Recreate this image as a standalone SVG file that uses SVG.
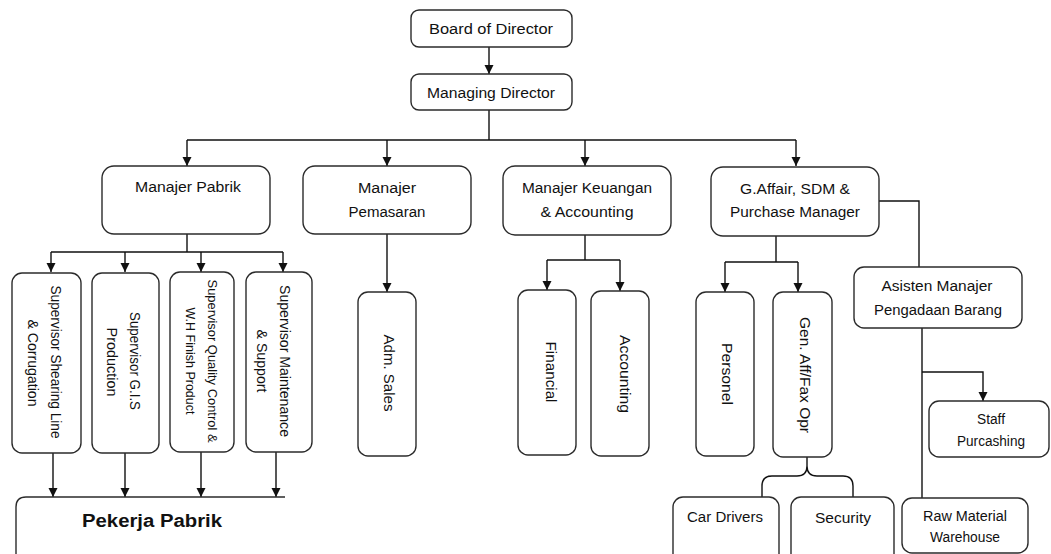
<svg xmlns="http://www.w3.org/2000/svg" width="1051" height="554" viewBox="0 0 1051 554">
<style>
.box{fill:#fff;stroke:#2b2b2b;stroke-width:1.4}
.t{font-family:"Liberation Sans",Arial,sans-serif;font-size:14px;fill:#111;text-anchor:middle}
.v{font-family:"Liberation Sans",Arial,sans-serif;font-size:14px;fill:#111;text-anchor:middle;dominant-baseline:central}
.c{fill:none;stroke:#111;stroke-width:1.4}
.a{fill:none;stroke:#111;stroke-width:1.4;marker-end:url(#arr)}
</style>
<defs>
<marker id="arr" markerUnits="userSpaceOnUse" markerWidth="10" markerHeight="10" refX="9" refY="5" orient="auto">
<path d="M0,0.5 L9,5 L0,9.5 Z" fill="#111"/>
</marker>
</defs>
<rect width="1051" height="554" fill="#fff"/>
<g id="connectors">
<path class="a" d="M489,47 V74"/>
<path class="c" d="M489,110 V140 M187,140 H796"/>
<path class="a" d="M187,140 V166"/>
<path class="a" d="M387,140 V166"/>
<path class="a" d="M585,140 V166"/>
<path class="a" d="M796,140 V166"/>
<path class="c" d="M187,234 V252 M51,252 H283"/>
<path class="a" d="M51,252 V272"/>
<path class="a" d="M125,252 V272"/>
<path class="a" d="M201,252 V272"/>
<path class="a" d="M283,252 V272"/>
<path class="a" d="M53,453 V497"/>
<path class="a" d="M125,453 V497"/>
<path class="a" d="M201,452 V497"/>
<path class="a" d="M276,452 V497"/>
<path class="a" d="M387,234 V292"/>
<path class="c" d="M585,235 V260 M547,260 H620"/>
<path class="a" d="M547,260 V290"/>
<path class="a" d="M620,260 V291"/>
<path class="c" d="M776,236 V262 M725,262 H798"/>
<path class="a" d="M725,262 V292"/>
<path class="a" d="M798,262 V292"/>
<path class="c" d="M879,201 H919 V267"/>
<path class="c" d="M922,328 V498"/>
<path class="a" d="M922,372 H983 V401"/>
<path class="c" d="M807,457 V466 Q807,476 797,476 H772 Q762,476 762,486 V497 M807,466 Q807,476 817,476 H843 Q853,476 853,486 V497"/>
</g>
<g id="board"><rect class="box" x="411" y="10" width="161" height="37" rx="8"/><text class="t" x="491" y="34" textLength="124" lengthAdjust="spacingAndGlyphs">Board of  Director</text></g>
<g id="md"><rect class="box" x="411" y="74" width="161" height="36" rx="8"/><text class="t" x="491" y="98" textLength="128" lengthAdjust="spacingAndGlyphs">Managing Director</text></g>
<g id="mpabrik"><rect class="box" x="102" y="166" width="168" height="68" rx="12"/><text class="t" x="188" y="192" textLength="106" lengthAdjust="spacingAndGlyphs">Manajer Pabrik</text></g>
<g id="mpemasaran"><rect class="box" x="303" y="166" width="168" height="68" rx="12"/><text class="t" x="387" y="193" textLength="58" lengthAdjust="spacingAndGlyphs">Manajer</text><text class="t" x="387" y="217" textLength="77" lengthAdjust="spacingAndGlyphs">Pemasaran</text></g>
<g id="mkeuangan"><rect class="box" x="503" y="166" width="168" height="69" rx="12"/><text class="t" x="587" y="193" textLength="130" lengthAdjust="spacingAndGlyphs">Manajer Keuangan</text><text class="t" x="587" y="217" textLength="93" lengthAdjust="spacingAndGlyphs">&amp; Accounting</text></g>
<g id="gaffair"><rect class="box" x="711" y="167" width="168" height="69" rx="12"/><text class="t" x="795" y="194" textLength="110" lengthAdjust="spacingAndGlyphs">G.Affair, SDM &amp;</text><text class="t" x="795" y="217" textLength="130" lengthAdjust="spacingAndGlyphs">Purchase Manager</text></g>
<g id="sup1"><rect class="box" x="12" y="273" width="69" height="180" rx="10"/>
<text class="v" transform="translate(56,362) rotate(90)" textLength="153" lengthAdjust="spacingAndGlyphs">Supervisor Shearing Line</text>
<text class="v" transform="translate(33,363) rotate(90)" textLength="87" lengthAdjust="spacingAndGlyphs">&amp; Corrugation</text></g>
<g id="sup2"><rect class="box" x="92" y="273" width="67" height="180" rx="10"/>
<text class="v" transform="translate(135,361) rotate(90)" textLength="98" lengthAdjust="spacingAndGlyphs">Supervisor G.I.S</text>
<text class="v" transform="translate(112,362) rotate(90)" textLength="69" lengthAdjust="spacingAndGlyphs">Production</text></g>
<g id="sup3"><rect class="box" x="170" y="272" width="64" height="180" rx="10"/>
<text class="v" style="font-size:12px" transform="translate(212,361) rotate(90)" textLength="163" lengthAdjust="spacingAndGlyphs">Supervisor Quality Control &amp;</text>
<text class="v" style="font-size:12px" transform="translate(190,361) rotate(90)" textLength="107" lengthAdjust="spacingAndGlyphs">W.H Finish Product</text></g>
<g id="sup4"><rect class="box" x="246" y="272" width="66" height="180" rx="10"/>
<text class="v" transform="translate(285,361) rotate(90)" textLength="152" lengthAdjust="spacingAndGlyphs">Supervisor Maintenance</text>
<text class="v" transform="translate(262,361) rotate(90)" textLength="63" lengthAdjust="spacingAndGlyphs">&amp; Support</text></g>
<g id="pekerja"><path class="box" d="M16,560 V507 Q16,497 26,497 H285"/><text class="t" x="152" y="527" style="font-weight:bold;font-size:18px" textLength="140" lengthAdjust="spacingAndGlyphs">Pekerja Pabrik</text></g>
<g id="adm"><rect class="box" x="358" y="292" width="58" height="164" rx="10"/><text class="v" transform="translate(389,373) rotate(90)" textLength="77" lengthAdjust="spacingAndGlyphs">Adm. Sales</text></g>
<g id="financial"><rect class="box" x="518" y="290" width="58" height="165" rx="10"/><text class="v" transform="translate(551,372) rotate(90)" textLength="61" lengthAdjust="spacingAndGlyphs">Financial</text></g>
<g id="accounting"><rect class="box" x="591" y="291" width="58" height="165" rx="10"/><text class="v" transform="translate(625,374) rotate(90)" textLength="78" lengthAdjust="spacingAndGlyphs">Accounting</text></g>
<g id="personel"><rect class="box" x="696" y="292" width="58" height="164" rx="10"/><text class="v" transform="translate(727,374) rotate(90)" textLength="62" lengthAdjust="spacingAndGlyphs">Personel</text></g>
<g id="genaff"><rect class="box" x="773" y="292" width="59" height="165" rx="10"/><text class="v" transform="translate(805,375) rotate(90)" textLength="116" lengthAdjust="spacingAndGlyphs">Gen. Aff/Fax Opr</text></g>
<g id="asisten"><rect class="box" x="854" y="267" width="168" height="61" rx="10"/><text class="t" x="937" y="291" textLength="111" lengthAdjust="spacingAndGlyphs">Asisten Manajer</text><text class="t" x="938" y="315" textLength="128" lengthAdjust="spacingAndGlyphs">Pengadaan Barang</text></g>
<g id="staff"><rect class="box" x="929" y="401" width="120" height="56" rx="10"/><text class="t" x="991" y="424" textLength="28" lengthAdjust="spacingAndGlyphs">Staff</text><text class="t" x="991" y="446" textLength="68" lengthAdjust="spacingAndGlyphs">Purcashing</text></g>
<g id="cardrivers"><rect class="box" x="673" y="497" width="106" height="70" rx="10"/><text class="t" x="725" y="522" textLength="76" lengthAdjust="spacingAndGlyphs">Car Drivers</text></g>
<g id="security"><rect class="box" x="791" y="497" width="103" height="70" rx="10"/><text class="t" x="843" y="523" textLength="56" lengthAdjust="spacingAndGlyphs">Security</text></g>
<g id="rawmaterial"><rect class="box" x="902" y="498" width="126" height="55" rx="10"/><text class="t" x="965" y="521" textLength="84" lengthAdjust="spacingAndGlyphs">Raw Material</text><text class="t" x="965" y="542" textLength="70" lengthAdjust="spacingAndGlyphs">Warehouse</text></g>
</svg>
